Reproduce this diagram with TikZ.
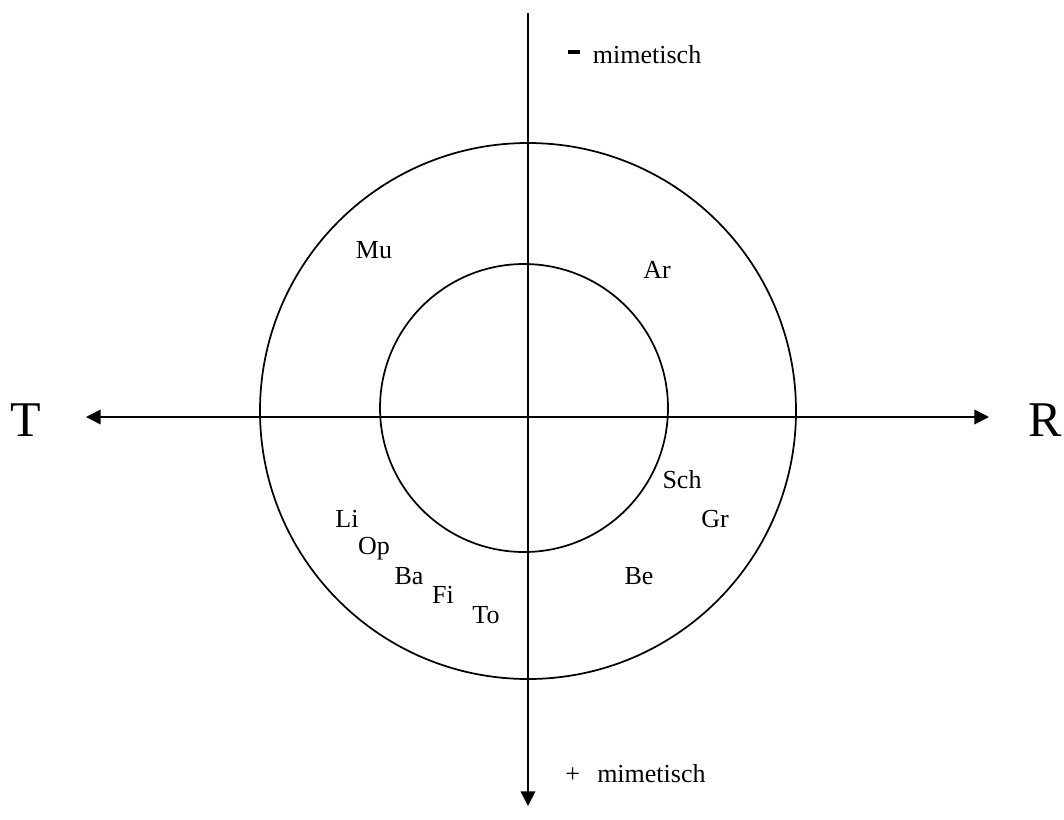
\documentclass[tikz,border=0pt]{standalone}
\usepackage{fontspec}
\setmainfont{Liberation Serif}
\usepackage{tikz}
\usetikzlibrary{arrows.meta,positioning,calc}
\tikzset{
  circ/.style={line width=1.3pt},
  axis/.style={line width=1.3pt,-{Triangle[length=11pt,width=11pt]}},
  lbl/.style={inner sep=0pt,anchor=base,font=\fontsize{19.5}{22}\selectfont},
  pole/.style={inner sep=0pt,anchor=base,font=\fontsize{37.5}{40}\selectfont}}

\begin{document}
\begin{tikzpicture}[x=0.75pt,y=-0.75pt]
  \useasboundingbox (0,0) rectangle (1064,819);
  \coordinate (O) at (528,417);
  \coordinate (Oout) at (528,411);
  \coordinate (Oin) at (524,408);
  \coordinate (top) at (528,13);
  \coordinate (bot) at (528,806);
  \coordinate (lft) at (86,417);
  \coordinate (rgt) at (989,417);
  \draw[circ] (Oout) circle[radius=268];
  \draw[circ] (Oin) circle[radius=144];
  \draw[axis] (O) -- (lft);
  \draw[axis] (O) -- (rgt);
  \draw[axis] (top) -- (bot);
  % poles
  \node[pole] (T) at (26,436) {T};
  \node[pole] (R) at (1045,436) {R};
  \node[lbl,anchor=base west] (minus) at (568,63)
    {\rule[6.5pt]{9pt}{3pt}\hspace{9.5pt}mimetisch};
  \node[lbl,anchor=base west] (plus) at (565,782)
    {+\hspace{13pt}mimetisch};
  % names
  \node[lbl] (Mu) at (374,258) {Mu};
  \node[lbl] (Ar) at (657,278) {Ar};
  \node[lbl] (Sch) at (682,488) {Sch};
  \node[lbl] (Gr) at (715,527) {Gr};
  \node[lbl] (Be) at (639,584) {Be};
  \node[lbl] (Li) at (347,527) {Li};
  \node[lbl] (Op) at (374,554) {Op};
  \node[lbl] (Ba) at (409,584) {Ba};
  \node[lbl] (Fi) at (443,603) {Fi};
  \node[lbl] (To) at (486,623) {To};
\end{tikzpicture}
\end{document}
